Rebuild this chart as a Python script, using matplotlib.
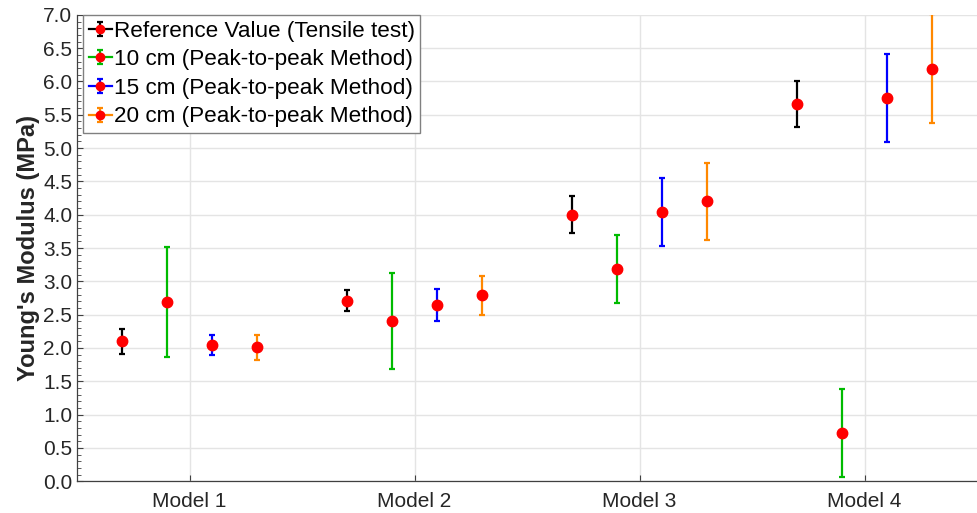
import numpy as np
import matplotlib.pyplot as plt
from matplotlib.lines import Line2D
from matplotlib.container import ErrorbarContainer
from matplotlib.legend_handler import HandlerErrorbar

plt.rcParams['font.family'] = ['Liberation Sans', 'DejaVu Sans']

models = ["Model 1", "Model 2", "Model 3", "Model 4"]

labels = ["Reference Value (Tensile test)",
          "10 cm (Peak-to-peak Method)",
          "15 cm (Peak-to-peak Method)",
          "20 cm (Peak-to-peak Method)"]

# mean modulus (MPa) per model, one list per series
ref_mean = [2.10, 2.71, 4.00, 5.66]
cm10_mean = [2.69, 2.41, 3.18, 0.72]
cm15_mean = [2.05, 2.64, 4.04, 5.75]
cm20_mean = [2.01, 2.79, 4.20, 6.19]

# half-width of the error bars (MPa)
ref_err = [0.19, 0.16, 0.28, 0.35]
cm10_err = [0.83, 0.72, 0.51, 0.66]
cm15_err = [0.15, 0.24, 0.51, 0.66]
cm20_err = [0.19, 0.29, 0.58, 0.82]

means = [ref_mean, cm10_mean, cm15_mean, cm20_mean]
errs = [ref_err, cm10_err, cm15_err, cm20_err]
colors = ["black", "#00bb00", "#0000ff", "#ff8800"]
offsets = [-0.3, -0.1, 0.1, 0.3]

fig = plt.figure(figsize=(9.77, 5.13), dpi=100)
ax = fig.add_axes([0.079, 0.062, 0.921, 0.909])

x = np.arange(1, len(models) + 1)
for m, e, c, off, lab in zip(means, errs, colors, offsets, labels):
    ax.errorbar(x + off, m, yerr=e, fmt='o', ls='none', color=c, ecolor=c,
                elinewidth=1.6, capsize=2, capthick=1.6,
                marker='o', markersize=7.5, mfc='red', mec='red',
                label=lab, zorder=3)

ax.set_xlim(0.5, 4.5)
ax.set_ylim(0, 7)
ax.set_xticks(x)
ax.set_xticklabels(models)
ax.set_yticks(np.arange(0, 7.01, 0.5))
ax.set_yticks(np.arange(0, 7.01, 0.1), minor=True)
ax.yaxis.set_major_formatter(plt.FormatStrFormatter('%.1f'))

ax.grid(True, which='major', color='#e4e4e4', lw=1)
ax.set_axisbelow(True)
for s in ['top', 'right']:
    ax.spines[s].set_visible(False)
for s in ['left', 'bottom']:
    ax.spines[s].set_color('#404040')
    ax.spines[s].set_linewidth(0.9)

ax.tick_params(axis='both', which='major', direction='in', length=4,
               color='#404040', labelsize=15, labelcolor='#262626')
ax.tick_params(axis='y', which='minor', direction='in', length=3,
               color='#404040')
ax.tick_params(axis='x', which='minor', bottom=False)
ax.tick_params(axis='x', pad=8)

ax.set_ylabel("Young's Modulus (MPa)", fontsize=17, fontweight='bold',
              color='#262626', labelpad=2)


def _solid(leg_artist, orig):
    # copy the plotted style, then draw a short line through a smaller marker
    leg_artist.update_from(orig)
    if isinstance(leg_artist, Line2D):
        leg_artist.set_linestyle('-')
        leg_artist.set_linewidth(1.6)
        if orig.get_marker() == 'o':
            leg_artist.set_markersize(6)


leg = ax.legend(loc='upper left', bbox_to_anchor=(0.007, 1.0),
                borderaxespad=0, fontsize=16.2, handlelength=1.0,
                handletextpad=0.1, labelspacing=0.34, borderpad=0.25,
                fancybox=False, framealpha=1, edgecolor='#808080',
                handler_map={ErrorbarContainer:
                             HandlerErrorbar(yerr_size=0.31, update_func=_solid)})
leg.get_frame().set_linewidth(1.0)

fig.savefig("out.png", dpi=100)
